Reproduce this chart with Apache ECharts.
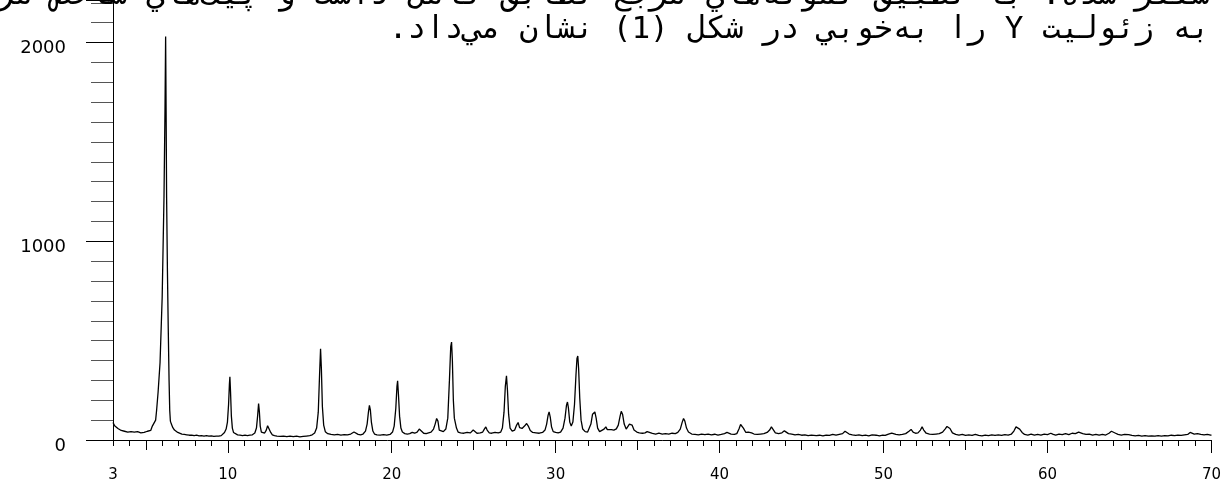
<!DOCTYPE html>
<html>
<head>
<meta charset="utf-8">
<script src="https://cdn.jsdelivr.net/npm/echarts@6/dist/echarts.min.js"></script>
<style>
  html, body { margin: 0; padding: 0; background: #fff; }
  #chart { width: 1224px; height: 483px; }
</style>
</head>
<body>
<div id="chart"></div>
<script>
// XRD scan of zeolite Y, [2theta, counts]
const scanLow = [
  [3.0, 88], [3.05, 80], [3.1, 72], [3.15, 76], [3.2, 62], [3.3, 58], [3.4, 52], [3.5, 48], [3.6, 50], [3.7, 44],
  [3.8, 46], [3.9, 40], [4.0, 44], [4.1, 42], [4.2, 46], [4.3, 40], [4.4, 38], [4.5, 42], [4.6, 40], [4.7, 36],
  [4.8, 40], [4.9, 38], [5.0, 42], [5.1, 44], [5.2, 40], [5.3, 48], [5.4, 70], [5.45, 66], [5.5, 78], [5.6, 100],
  [5.66, 150], [5.75, 240], [5.87, 390], [6.0, 720], [6.11, 1220], [6.17, 1650], [6.21, 2030], [6.24, 1650], [6.27, 1220], [6.32, 850],
  [6.37, 560], [6.42, 300], [6.46, 150], [6.5, 95], [6.56, 80], [6.65, 62], [6.75, 50], [6.85, 42], [6.95, 38], [7.05, 34],
  [7.2, 30], [7.35, 28], [7.5, 26], [7.65, 24], [7.8, 25], [7.95, 22], [8.1, 24], [8.25, 21], [8.4, 22], [8.55, 20],
  [8.7, 22], [8.85, 19], [9.0, 21], [9.15, 18], [9.3, 20], [9.45, 19], [9.6, 22], [9.7, 28], [9.8, 38], [9.9, 55],
  [9.98, 90], [10.05, 180], [10.1, 280], [10.13, 318], [10.17, 240], [10.22, 120], [10.28, 60], [10.35, 38], [10.45, 30], [10.6, 26],
  [10.75, 24], [10.9, 22], [11.05, 24], [11.2, 22], [11.35, 24], [11.5, 26], [11.65, 35], [11.75, 60], [11.82, 120], [11.88, 183],
  [11.93, 140], [11.98, 70], [12.05, 40], [12.15, 30], [12.25, 35], [12.35, 50], [12.43, 72], [12.49, 80], [12.55, 62], [12.62, 38],
  [12.72, 26], [12.85, 22], [13.0, 20], [13.2, 18], [13.4, 20], [13.6, 17], [13.8, 19], [14.0, 17], [14.2, 19], [14.4, 16],
  [14.6, 18], [14.8, 20], [15.0, 22], [15.15, 26], [15.3, 35], [15.42, 60], [15.52, 140], [15.6, 330], [15.66, 459], [15.71, 360],
  [15.77, 170], [15.85, 75], [15.95, 42]
];
const scanMid = [
  [16.1, 32], [16.3, 28], [16.5, 26], [16.7, 28], [16.9, 25], [17.1, 27], [17.3, 26], [17.5, 30], [17.62, 38], [17.7, 40],
  [17.8, 35], [17.95, 28], [18.1, 26], [18.25, 30], [18.4, 45], [18.5, 80], [18.58, 140], [18.64, 174], [18.7, 150], [18.76, 90],
  [18.85, 45], [18.95, 30], [19.1, 26], [19.3, 25], [19.5, 27], [19.7, 25], [19.9, 28], [20.05, 40], [20.15, 70], [20.25, 160],
  [20.32, 270], [20.36, 298], [20.41, 230], [20.48, 120], [20.56, 60], [20.65, 40], [20.8, 32], [20.95, 30], [21.1, 32], [21.25, 38],
  [21.31, 42], [21.4, 34], [21.55, 40], [21.68, 55], [21.72, 58], [21.8, 46], [21.95, 34], [22.1, 32], [22.25, 36], [22.4, 40],
  [22.55, 55], [22.65, 80], [22.74, 108], [22.82, 95], [22.9, 50], [23.0, 40], [23.15, 42], [23.3, 55], [23.42, 110], [23.52, 300],
  [23.6, 470], [23.65, 493], [23.7, 400], [23.76, 200], [23.82, 110], [23.88, 100], [23.95, 60], [24.05, 40], [24.2, 36], [24.4, 34],
  [24.6, 38], [24.8, 36], [24.9, 45], [24.97, 50], [25.05, 40], [25.2, 34], [25.4, 36], [25.55, 40], [25.65, 55], [25.74, 66],
  [25.82, 50], [25.95, 36], [26.1, 34], [26.3, 38], [26.5, 36], [26.65, 40], [26.75, 60], [26.85, 140], [26.93, 270], [27.0, 323],
  [27.06, 250], [27.13, 130], [27.22, 60], [27.35, 45], [27.5, 50], [27.62, 75], [27.71, 88], [27.8, 62], [27.95, 58], [28.1, 70],
  [28.23, 83], [28.33, 70], [28.45, 48], [28.6, 38], [28.8, 36], [29.0, 34], [29.2, 38], [29.35, 50], [29.45, 80], [29.54, 125],
  [29.6, 141], [29.67, 115], [29.75, 65], [29.85, 42], [30.0, 38], [30.15, 36], [30.3, 40], [30.45, 60], [30.57, 110], [30.66, 175],
  [30.72, 191], [30.78, 160], [30.86, 90], [30.95, 70], [31.05, 90], [31.15, 180], [31.24, 330], [31.3, 410], [31.35, 423], [31.4, 360],
  [31.47, 210], [31.55, 100], [31.65, 55], [31.8, 42], [31.95, 40], [32.05, 48], [32.15, 80], [32.25, 130], [32.3, 122], [32.39, 141],
  [32.47, 110], [32.56, 60], [32.68, 42], [32.8, 40], [32.95, 55], [33.06, 66], [33.15, 52], [33.25, 48], [33.4, 52], [33.55, 50],
  [33.7, 56], [33.82, 75], [33.93, 120], [34.0, 144], [34.08, 130], [34.18, 80], [34.3, 55], [34.4, 60], [34.5, 80], [34.58, 86],
  [34.66, 75], [34.78, 50], [34.95, 40], [35.1, 36], [35.3, 34], [35.45, 36], [35.58, 42], [35.7, 38], [35.9, 33], [36.1, 30],
  [36.3, 34], [36.5, 30], [36.7, 32], [36.9, 30], [37.1, 34], [37.3, 32], [37.45, 38], [37.6, 55], [37.72, 90], [37.8, 108],
  [37.88, 95], [37.98, 60], [38.1, 40], [38.3, 30], [38.5, 28], [38.7, 26], [38.9, 30], [39.1, 27], [39.3, 30], [39.5, 26],
  [39.7, 29], [39.9, 25]
];
const scanHigh = [
  [40.1, 28], [40.3, 32], [40.45, 38], [40.55, 38], [40.7, 30], [40.9, 28], [41.05, 32], [41.18, 55], [41.28, 78], [41.35, 81],
  [41.45, 60], [41.6, 38], [41.75, 40], [41.84, 45], [41.95, 36], [42.1, 30], [42.3, 28], [42.5, 30], [42.7, 32], [42.9, 38],
  [43.05, 50], [43.16, 66], [43.25, 55], [43.4, 36], [43.6, 32], [43.8, 36], [43.95, 46], [44.05, 42], [44.2, 32], [44.4, 30],
  [44.6, 26], [44.8, 28], [45.0, 24], [45.2, 26], [45.4, 22], [45.6, 25], [45.7, 27], [45.9, 22], [46.1, 24], [46.3, 21],
  [46.5, 25], [46.7, 23], [46.9, 28], [47.1, 24], [47.3, 28], [47.5, 32], [47.65, 44], [47.75, 42], [47.9, 30], [48.1, 26],
  [48.3, 23], [48.5, 26], [48.7, 22], [48.9, 25], [49.1, 21], [49.3, 26], [49.4, 29], [49.55, 24], [49.75, 21], [49.95, 24],
  [50.1, 23], [50.3, 30], [50.5, 35], [50.6, 38], [50.75, 28], [50.95, 26], [51.15, 28], [51.35, 32], [51.55, 44], [51.68, 53],
  [51.8, 40], [51.95, 34], [52.1, 36], [52.25, 50], [52.35, 66], [52.45, 50], [52.6, 34], [52.8, 30], [53.0, 28], [53.2, 30],
  [53.4, 32], [53.6, 40], [53.75, 55], [53.87, 68], [53.95, 70], [54.05, 58], [54.2, 36], [54.4, 28], [54.6, 25], [54.8, 28],
  [55.0, 23], [55.2, 26], [55.4, 23], [55.6, 28], [55.8, 23], [56.0, 21], [56.2, 25], [56.4, 22], [56.6, 26], [56.8, 23],
  [57.0, 26], [57.2, 23], [57.4, 27], [57.6, 25], [57.8, 30], [57.95, 45], [58.08, 66], [58.2, 70], [58.3, 55], [58.45, 38],
  [58.6, 28], [58.8, 25], [59.0, 30], [59.2, 25], [59.4, 28], [59.6, 25], [59.8, 30], [60.0, 27], [60.2, 34], [60.35, 28],
  [60.5, 25], [60.7, 30], [60.9, 27], [61.1, 32], [61.3, 27], [61.5, 34], [61.7, 32], [61.9, 40], [62.0, 41], [62.15, 32],
  [62.35, 28], [62.55, 30], [62.75, 25], [62.95, 28], [63.15, 24], [63.35, 28], [63.55, 25], [63.75, 34], [63.9, 44], [64.0, 45],
  [64.15, 34], [64.3, 28], [64.5, 25], [64.7, 28], [64.8, 32], [64.95, 27], [65.15, 23], [65.35, 21], [65.55, 23], [65.75, 19],
  [65.95, 22], [66.15, 19], [66.35, 21], [66.55, 19], [66.75, 22], [66.95, 20], [67.15, 22], [67.35, 21], [67.55, 24], [67.75, 22],
  [67.95, 25], [68.15, 23], [68.35, 26], [68.55, 28], [68.7, 38], [68.8, 36], [68.95, 30], [69.15, 32], [69.35, 28], [69.55, 26],
  [69.75, 28], [69.95, 24], [70.0, 26]
];

// axis ticks and labels
const xMinorTicks = [];
for (let t = 3; t <= 70; t++) xMinorTicks.push(t);
const xMidTicks = [5, 15, 25, 35, 45, 55, 65];
const xMajorTicks = [10, 20, 30, 40, 50, 60, 70];
const xLabels = [3, 10, 20, 30, 40, 50, 60, 70];

// caption text that sits over the top of the plot
const captionLine1 = 'سنتز شده. با تطبيق نمونه‌هاي مرجع تطابق كامل داشت و پيك‌هاي شاخص مربوط';
const captionLine2 = 'به زئوليت Y را به‌خوبي در شكل (1) نشان مي‌داد.';

const chart = echarts.init(document.getElementById('chart'));

const yMax = 2214;
const baseX = { type: 'value', min: 3, max: 70, position: 'bottom', splitLine: { show: false } };
const baseY = { type: 'value', min: 0, max: yMax, position: 'left', splitLine: { show: false } };
const tickStyle = { color: '#000', width: 1 };

const option = {
  animation: false,
  backgroundColor: '#fff',
  grid: { left: 113, right: 12, top: 0, bottom: 38, containLabel: false },
  xAxis: [
    Object.assign({}, baseX, {
      axisLine: { show: true, lineStyle: { color: '#000', width: 1 } },
      axisTick: { show: true, inside: false, length: 6, lineStyle: tickStyle, customValues: xMinorTicks },
      axisLabel: { show: false }
    }),
    Object.assign({}, baseX, {
      axisLine: { show: false },
      axisTick: { show: true, inside: false, length: 10, lineStyle: tickStyle, customValues: xMidTicks },
      axisLabel: { show: false }
    }),
    Object.assign({}, baseX, {
      axisLine: { show: false },
      axisTick: { show: true, inside: false, length: 13, lineStyle: tickStyle, customValues: xMajorTicks },
      axisLabel: {
        show: true, customValues: xLabels, margin: 28, color: '#000',
        fontFamily: 'DejaVu Sans', fontSize: 15
      }
    })
  ],
  yAxis: [
    Object.assign({}, baseY, {
      interval: 100,
      axisLine: { show: true, lineStyle: { color: '#000', width: 1 } },
      axisTick: { show: true, inside: false, length: 22, lineStyle: { color: '#555', width: 1 } },
      axisLabel: { show: false }
    }),
    Object.assign({}, baseY, {
      interval: 1000,
      axisLine: { show: false },
      axisTick: { show: true, inside: false, length: 27, lineStyle: tickStyle },
      axisLabel: {
        show: true, margin: 47, color: '#000',
        fontFamily: 'DejaVu Sans', fontSize: 18,
        verticalAlign: 'top', lineHeight: 12,
        formatter: function (v) { return v > 2000 ? '' : String(v); }
      }
    })
  ],
  series: [
    {
      type: 'line',
      xAxisIndex: 0,
      yAxisIndex: 0,
      data: scanLow.concat(scanMid, scanHigh),
      showSymbol: false,
      smooth: false,
      lineStyle: { color: '#000', width: 1.3 },
      z: 3
    }
  ],
  graphic: [
    {
      type: 'text', z: 10, x: 1210, y: 11,
      style: {
        text: '\u202B' + captionLine1 + '\u202C',
        textAlign: 'right', textVerticalAlign: 'bottom',
        font: '31px "DejaVu Sans Mono"', fill: '#000'
      }
    },
    {
      type: 'text', z: 10, x: 1210, y: 45,
      style: {
        text: '\u202B' + captionLine2 + '\u202C',
        textAlign: 'right', textVerticalAlign: 'bottom',
        font: '31px "DejaVu Sans Mono"', fill: '#000'
      }
    }
  ]
};

chart.setOption(option);
</script>
</body>
</html>
